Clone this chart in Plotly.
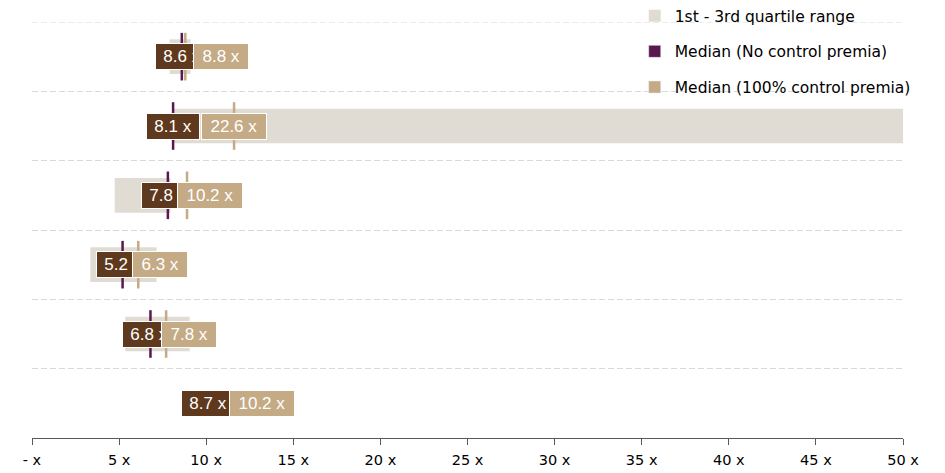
import plotly.graph_objects as go

# ---- data ----
rows = [5, 4, 3, 2, 1, 0]                       # row slots, top to bottom
q1 = [7.9, 8.1, 4.75, 3.35, 5.35, None]          # 1st quartile
q3 = [9.1, 55.0, 7.95, 7.15, 9.05, None]         # 3rd quartile (row 2 runs off the axis)
med_no = [8.6, 8.1, 7.8, 5.2, 6.8, None]         # median marker, no control premia
med_full = [8.8, 11.6, 8.9, 6.1, 7.7, None]      # median marker, 100% control premia
label_no = [8.6, 8.1, 7.8, 5.2, 6.8, 8.7]        # value labels, no control premia
label_full = [8.8, 22.6, 10.2, 6.3, 7.8, 10.2]   # value labels, 100% control premia
tick_vals = [0, 5, 10, 15, 20, 25, 30, 35, 40, 45, 50]
tick_text = ["- x", "5 x", "10 x", "15 x", "20 x", "25 x", "30 x", "35 x", "40 x", "45 x", "50 x"]

# ---- label placement (layout) ----
no_label_center = [8.6, 8.1, 7.8, 5.2, 6.72, 10.1]
full_label_left = [9.22, 9.70, 8.32, 5.76, 7.42, 11.33]

GREY = "#E0DCD3"
PURPLE = "#5A1850"
BROWN = "#5E391D"
TAN = "#C4AA85"
FONT = "Arial, 'Liberation Sans', sans-serif"
WIDE = "'DejaVu Sans', Verdana, sans-serif"
LABEL_SIZE = 17

CW = {"0": .556, "1": .556, "2": .556, "3": .556, "4": .556, "5": .556, "6": .556,
      "7": .556, "8": .556, "9": .556, ".": .278, " ": .278, "x": .5}


def text_w(s, size=LABEL_SIZE):
    return sum(CW.get(c, .556) for c in s) * size


fig = go.Figure()

rng_x = [None if a is None else b - a for a, b in zip(q1, q3)]
fig.add_trace(go.Bar(
    y=rows, x=rng_x, base=q1, orientation="h", width=0.5,
    marker=dict(color=GREY, line=dict(width=0)),
    name="1st - 3rd quartile range", legendgroup="a", hoverinfo="skip",
))
fig.add_trace(go.Scatter(
    y=rows, x=med_no, mode="markers", showlegend=False, hoverinfo="skip",
    marker=dict(symbol="line-ns", size=34, line=dict(color=PURPLE, width=2.5)),
))
fig.add_trace(go.Scatter(
    y=rows, x=med_full, mode="markers", showlegend=False, hoverinfo="skip",
    marker=dict(symbol="line-ns", size=34, line=dict(color=TAN, width=2.5)),
))
# legend entries for the medians
fig.add_trace(go.Bar(y=[None], x=[None], orientation="h", marker=dict(color=PURPLE),
                     name="Median (No control premia)", legendgroup="b"))
fig.add_trace(go.Bar(y=[None], x=[None], orientation="h", marker=dict(color=TAN),
                     name="Median (100% control premia)", legendgroup="c"))

for r, v, cx in zip(rows, label_no, no_label_center):
    t = f"{v:.1f} x"
    fig.add_annotation(x=cx, y=r, xref="x", yref="y", text=t, showarrow=False,
                       xanchor="center", yanchor="middle", width=46,
                       font=dict(family=FONT, size=LABEL_SIZE, color="white"),
                       bgcolor=BROWN, bordercolor="white", borderwidth=1, borderpad=3)
for r, v, lx in zip(rows, label_full, full_label_left):
    t = f"{v:.1f} x"
    fig.add_annotation(x=lx, y=r, xref="x", yref="y", text=t, showarrow=False,
                       xanchor="left", yanchor="middle", width=text_w(t) + 11.5,
                       font=dict(family=FONT, size=LABEL_SIZE, color="white"),
                       bgcolor=TAN, bordercolor="white", borderwidth=1, borderpad=3)

# top dashed boundary line (gridline at the upper edge of the plot area)
fig.add_shape(type="line", xref="paper", x0=0, x1=1, yref="y", y0=5.5, y1=5.5,
              line=dict(color="#D9D9D9", width=1, dash="6px,3px"), layer="below")

# the page body has an 8px margin, so the figure is drawn 8px in from the top-left
fig.update_layout(
    width=937, height=465,
    margin=dict(l=24, r=42, t=14, b=35, autoexpand=False),
    paper_bgcolor="white", plot_bgcolor="white",
    barmode="overlay",
    font=dict(family=FONT, size=13, color="#000000"),
    showlegend=True,
    legend=dict(x=0.692, xanchor="left", y=1.055, yanchor="top",
                bgcolor="rgba(0,0,0,0)", borderwidth=0,
                font=dict(family=WIDE, size=15.5, color="#000000"),
                traceorder="grouped", tracegroupgap=12.5),
    xaxis=dict(range=[0, 50], tickvals=tick_vals, ticktext=tick_text,
               showgrid=False, zeroline=False, showline=True, linecolor="#595959",
               linewidth=1, ticks="outside", ticklen=6, tickcolor="#595959",
               tickfont=dict(family=WIDE, size=14.5, color="#000000"),
               ticklabelstandoff=3, automargin=False, fixedrange=True),
    yaxis=dict(range=[-0.5, 5.5], tickvals=[0.5, 1.5, 2.5, 3.5, 4.5],
               showticklabels=False, showgrid=True, gridcolor="#D9D9D9",
               griddash="6px,3px", gridwidth=1, zeroline=False, showline=False,
               ticks="", automargin=False, fixedrange=True),
)

fig.write_html("out.html")
